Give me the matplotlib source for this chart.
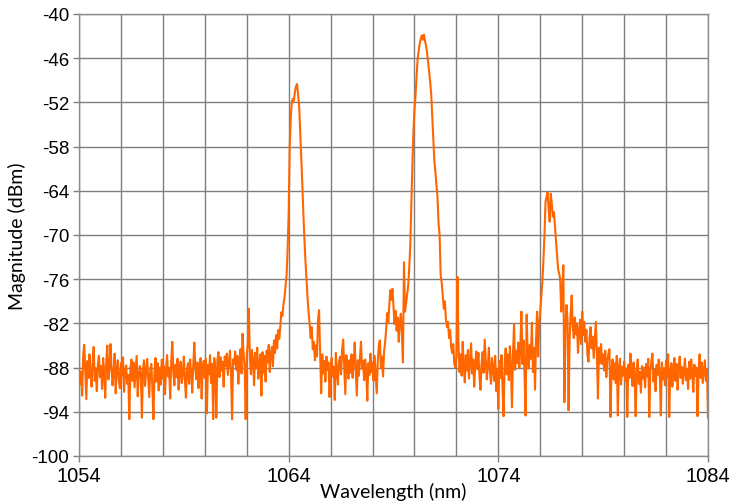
import numpy as np
import matplotlib
matplotlib.use("Agg")
import matplotlib.pyplot as plt

# Spectrum samples, 0.05 nm apart, starting at 1054 nm (values in dBm)
start_nm = 1054.0
step_nm = 0.05

noise_left = [
    -87.5,-90.2,-88.6,-91.8,-86.3,-84.9,-88.7,-92.3,-87.1,-89.4,-86.2,-88.9,-90.6,-87.3,-85.2,-89.8,-88.1,-91.2,-87.6,-86.4,
    -89.3,-87.8,-90.9,-86.7,-88.4,-92.1,-87.2,-85.0,-89.6,-88.3,-84.8,-87.9,-90.4,-88.8,-86.1,-91.5,-88.2,-87.0,-89.7,-90.8,
    -87.4,-89.1,-86.6,-91.3,-88.5,-87.7,-90.2,-89.0,-95.0,-88.1,-86.9,-89.8,-87.3,-90.7,-88.6,-86.4,-91.9,-89.2,-87.8,-88.9,
    -94.8,-88.3,-87.0,-90.5,-88.7,-86.8,-89.4,-92.0,-88.2,-87.5,-90.9,-95.0,-88.6,-86.7,-89.9,-87.4,-91.1,-88.0,-90.3,-86.9,
    -89.5,-87.8,-91.6,-88.4,-86.3,-89.2,-88.0,-92.2,-87.1,-84.5,-88.7,-90.4,-87.6,-89.3,-86.8,-91.0,-88.5,-87.2,-90.1,-88.9,
    -86.5,-89.7,-92.1,-88.3,-87.4,-90.2,-86.9,-88.8,-91.4,-87.7,-84.6,-88.1,-89.6,-87.3,-90.8,-88.5,-86.7,-92.2,-88.0,-87.1,
    -89.4,-86.8,-94.2,-87.6,-88.9,-86.3,-90.1,-87.5,-95.0,-86.7,-88.2,-94.8,-87.0,-85.9,-89.3,-86.6,-88.4,-87.2,-90.6,-86.5,
    -87.8,-86.1,-89.0,-87.3,-85.7,-88.6,-95.0,-86.9,-87.5,-85.8,-88.3,-86.4,-90.2,-87.1,-85.5,-88.8,-83.4,-86.2,-87.9,-95.0,
    -86.3,-84.8,-80.0,-86.5,-88.9,-85.6,-87.2,-90.4,-86.0,-88.1,-85.3,-89.5,-87.6,-86.2,-91.8,-85.9,-88.7,-86.4,-89.9,-85.7,
]

peak_1064 = [
    -87.3,-84.9,-88.6,-86.1,-85.2,-87.8,-84.3,-86.0,-83.6,-85.4,-82.9,-84.1,-82.5,-80.5,-81.0,-79.5,-78.5,-77.0,-75.5,-72.0,
    -67.0,-58.0,-54.0,-52.0,-51.5,-51.8,-50.5,-49.8,-49.5,-51.0,-52.5,-56.0,-59.5,-63.0,-67.0,-70.5,-73.5,-76.0,-78.5,-80.5,
    -82.0,-84.0,-82.5,-85.5,-84.5,-87.0,-85.0,-86.5,-81.5,-80.2,-86.0,-91.5,-86.2,-88.8,-87.1,-89.9,-86.5,-88.3,-87.3,-92.0,
]

gap_1066 = [
    -88.4,-86.7,-89.2,-87.9,-92.4,-86.0,-88.6,-90.3,-87.2,-86.5,-88.9,-85.5,-84.2,-88.0,-91.6,-86.3,-88.1,-89.5,-87.0,-88.7,
    -86.2,-89.4,-87.5,-84.6,-88.3,-91.8,-87.0,-89.1,-86.6,-84.5,-88.2,-87.1,-89.7,-86.9,-88.5,-92.5,-87.4,-89.0,-86.1,-88.6,
    -87.3,-89.8,-86.4,-88.9,-91.5,-87.2,-85.0,-84.3,-88.1,-86.5,-89.2,-85.8,-84.6,-82.8,-80.6,-81.9,-79.5,-77.5,-78.8,-77.3,
]

peak_1070 = [
    -79.8,-82.1,-80.3,-83.0,-81.2,-84.5,-82.0,-80.7,-83.4,-87.3,-73.7,-80.4,-79.2,-78.0,-76.9,-74.5,-71.4,-66.0,-60.5,-56.0,
    -53.0,-51.1,-48.5,-46.2,-45.0,-44.0,-43.4,-42.9,-43.5,-42.8,-43.6,-44.3,-45.2,-46.5,-47.8,-49.2,-51.0,-54.0,-57.0,-60.0,
    -61.5,-63.3,-65.0,-68.5,-70.0,-75.5,-76.5,-78.2,-80.0,-79.0,-81.4,-82.5,-81.8,-84.0,-82.9,-85.2,-86.0,-84.8,-87.5,-88.0,
]

gap_1072 = [
    -86.5,-75.7,-85.0,-88.6,-86.2,-89.1,-84.5,-87.7,-90.0,-86.3,-88.4,-85.6,-89.5,-87.0,-84.7,-88.8,-86.9,-90.6,-87.4,-85.8,
    -88.2,-86.0,-89.3,-91.0,-87.5,-85.9,-88.7,-84.2,-86.8,-89.6,-87.9,-85.3,-88.5,-90.2,-86.7,-88.0,-89.8,-86.4,-91.2,-88.3,
    -93.6,-87.1,-89.4,-86.3,-90.8,-94.6,-87.6,-85.4,-88.9,-86.2,-89.7,-85.1,-87.8,-93.4,-86.0,-82.1,-88.3,-85.7,-87.4,-84.6,
    -88.0,-85.2,-80.4,-87.5,-84.3,-89.0,-94.5,-80.8,-86.4,-88.1,-84.9,-86.8,-81.9,-88.6,-85.3,-91.0,-84.0,-80.4,-86.5,-82.0,
]

peak_1076 = [
    -80.4,-78.5,-76.4,-73.5,-70.0,-65.5,-64.8,-64.2,-66.5,-68.2,-64.4,-65.8,-67.5,-66.9,-68.8,-70.5,-72.8,-74.6,-75.2,-76.0,
    -80.4,-77.5,-74.1,-92.7,-83.0,-79.5,-81.4,-93.8,-84.2,-80.6,-78.2,-82.5,-84.0,-81.2,-83.5,-82.0,-86.0,-83.1,-81.5,-84.8,
    -80.4,-83.6,-81.8,-84.5,-82.9,-86.3,-87.2,-84.0,-82.5,-85.4,-83.8,-86.7,-84.2,-81.8,-86.0,-92.2,-85.3,-87.4,-84.8,-87.5,
]

noise_right = [
    -86.2,-88.4,-85.7,-89.3,-87.0,-86.1,-85.5,-94.7,-88.3,-86.9,-89.6,-87.4,-90.1,-86.4,-94.5,-88.0,-86.8,-90.3,-87.9,-89.1,
    -87.2,-89.8,-88.1,-94.7,-87.6,-89.4,-86.1,-88.7,-90.5,-87.3,-89.0,-94.6,-88.2,-86.9,-90.2,-88.6,-91.4,-87.8,-89.5,-88.0,
    -90.7,-87.5,-89.2,-86.8,-94.7,-88.4,-87.1,-86.1,-89.9,-88.3,-91.2,-87.6,-89.0,-86.9,-88.8,-94.5,-87.3,-89.6,-88.1,-90.4,
    -87.0,-89.3,-86.2,-94.7,-88.5,-87.4,-90.6,-88.0,-86.7,-89.8,-87.5,-91.0,-88.2,-86.5,-89.4,-87.9,-90.2,-88.6,-86.8,-89.7,
    -88.3,-90.9,-87.2,-89.5,-86.9,-88.8,-91.3,-87.6,-89.1,-88.0,-94.6,-88.7,-86.2,-89.4,-87.3,-90.1,-88.5,-87.0,-89.8,-88.2,
    -94.8,
]

x_ticks = [1054, 1064, 1074, 1084]
y_ticks = [-40, -46, -52, -58, -64, -70, -76, -82, -88, -94, -100]

magnitude = np.array(noise_left + peak_1064 + gap_1066 + peak_1070
                     + gap_1072 + peak_1076 + noise_right)
wavelength = start_nm + step_nm * np.arange(len(magnitude))

fig = plt.figure(figsize=(7.33, 5.02), dpi=100)
ax = fig.add_axes([79 / 733, 1 - 457 / 502, (708 - 79) / 733, (457 - 15) / 502])

ax.plot(wavelength, magnitude, color="#ff6600", linewidth=1.5, zorder=3)

ax.set_xlim(1054, 1084)
ax.set_ylim(-100, -40)
ax.set_xticks(x_ticks)
ax.set_xticks(np.arange(1054, 1085, 2), minor=True)
ax.set_yticks(y_ticks)
ax.set_xticklabels([str(v) for v in x_ticks], fontfamily="Liberation Sans", fontsize=14.5)
ax.set_yticklabels([str(v) for v in y_ticks], fontfamily="Liberation Sans", fontsize=13.5)

ax.grid(True, which="both", axis="x", color="#7f7f7f", linewidth=1.0)
ax.grid(True, which="major", axis="y", color="#7f7f7f", linewidth=1.0)
ax.set_axisbelow(True)

ax.tick_params(axis="both", which="both", direction="out", length=4, width=1,
               color="#7f7f7f", pad=3)
ax.tick_params(axis="x", which="minor", length=0)
for s in ax.spines.values():
    s.set_color("#8c8c8c")
    s.set_linewidth(1.0)

ax.set_xlabel("Wavelength (nm)", fontfamily="Lato", fontsize=14, labelpad=-2)
ax.set_ylabel("Magnitude (dBm)", fontfamily="Lato", fontsize=14, labelpad=4)

fig.savefig("out.png", dpi=100)
